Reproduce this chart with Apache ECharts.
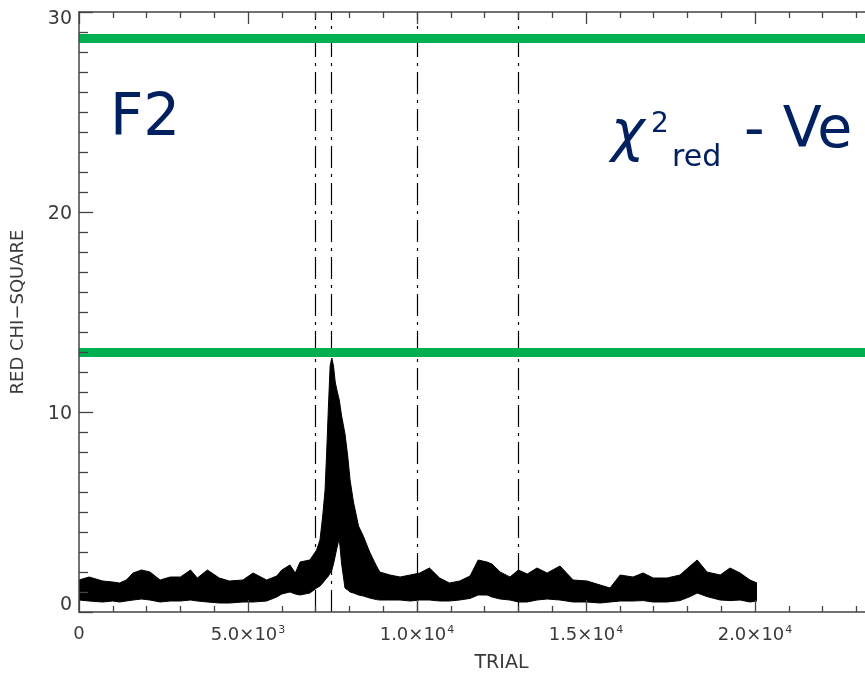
<!DOCTYPE html>
<html>
<head>
<meta charset="utf-8">
<script src="https://cdn.jsdelivr.net/npm/echarts@6/dist/echarts.min.js"></script>
<style>
  html, body { margin: 0; padding: 0; background: #fff; }
  #chart { width: 865px; height: 673px; }
</style>
</head>
<body>
<div id="chart"></div>
<script>
const trials = [0, 300, 700, 1000, 1200, 1400, 1600, 1850, 2100, 2400, 2700, 3000, 3300, 3500, 3800,
  4150, 4450, 4850, 5150, 5550, 5850, 6000, 6240, 6400, 6540, 6830, 7030, 7130, 7210, 7280, 7330,
  7380, 7430, 7480, 7530, 7580, 7630, 7700, 7770, 7870, 7950, 8020, 8120, 8270, 8410, 8600, 8800,
  8900, 9200, 9500, 9800, 10080, 10370, 10670, 10960, 11260, 11570, 11810, 12070, 12220, 12460,
  12750, 13000, 13260, 13550, 13850, 14230, 14620, 15030, 15420, 15710, 16010, 16390, 16690,
  16990, 17400, 17780, 18080, 18290, 18580, 18970, 19260, 19560, 19850, 20060];
// upper edge of the band (red chi-square)
const upper = [1.6, 1.75, 1.55, 1.5, 1.45, 1.6, 1.95, 2.1, 2.0, 1.6, 1.75, 1.75, 2.1, 1.7, 2.1,
  1.7, 1.55, 1.6, 1.95, 1.6, 1.8, 2.1, 2.35, 1.95, 2.5, 2.6, 3.1, 3.6, 4.8, 6.1, 8.1,
  10.3, 12.3, 12.7, 12.3, 11.5, 11.1, 10.6, 9.8, 8.9, 7.8, 6.6, 5.5, 4.3, 3.8, 3.0, 2.3,
  2.0, 1.85, 1.75, 1.85, 1.95, 2.2, 1.7, 1.45, 1.55, 1.8, 2.6, 2.5, 2.4, 2.0,
  1.75, 2.1, 1.9, 2.2, 1.95, 2.3, 1.6, 1.55, 1.35, 1.2, 1.85, 1.75, 1.95,
  1.7, 1.7, 1.85, 2.3, 2.6, 2.0, 1.85, 2.2, 1.95, 1.6, 1.45];
// lower edge of the band
const lower = [0.6, 0.55, 0.5, 0.55, 0.5, 0.55, 0.6, 0.65, 0.6, 0.5, 0.55, 0.55, 0.6, 0.55, 0.5,
  0.45, 0.45, 0.5, 0.5, 0.55, 0.75, 0.9, 1.0, 0.9, 0.85, 0.95, 1.2, 1.3, 1.45, 1.6, 1.7,
  1.8, 1.95, 2.1, 2.4, 2.8, 3.2, 3.68, 2.4, 1.2, 1.1, 1.0, 0.95, 0.85, 0.8, 0.7, 0.62,
  0.6, 0.6, 0.6, 0.55, 0.6, 0.6, 0.55, 0.55, 0.6, 0.68, 0.85, 0.85, 0.75, 0.65,
  0.6, 0.5, 0.5, 0.6, 0.65, 0.6, 0.5, 0.5, 0.45, 0.5, 0.55, 0.55, 0.57,
  0.5, 0.5, 0.57, 0.77, 0.95, 0.77, 0.6, 0.57, 0.6, 0.5, 0.55];
// dash-dot markers and green reference levels
const markerTrials = [7000, 7450, 10000, 13000];
const greenLevels = [28.7, 13.0];
const xTickLabels = ['0', '5.0×10{sup|3}', '1.0×10{sup|4}', '1.5×10{sup|4}', '2.0×10{sup|4}', '2.5×10{sup|4}'];
const yTickLabels = ['{lo|0}', '{mid|10}', '{mid|20}', '{hi|30}'];

var chartDom = document.getElementById('chart');
var myChart = echarts.init(chartDom);

const upperData = trials.map((t, i) => [t, upper[i]]);
const lowerData = trials.map((t, i) => [t, lower[i]]);

const axisCol = '#444';
const textCol = '#3a3a3a';
const labelFont = 'DejaVu Sans';
const yRich = (pad) => ({ fontSize: 19, fontFamily: labelFont, color: textCol, padding: pad });

var option = {
  animation: false,
  grid: { left: 79, top: 12, bottom: 61, width: 845, containLabel: false, outerBoundsMode: 'none' },
  xAxis: [
    {
      type: 'value', min: 0, max: 25000, interval: 5000, z: 10,
      name: 'TRIAL', nameLocation: 'middle', nameGap: 42,
      nameTextStyle: { color: textCol, fontSize: 19, fontFamily: labelFont },
      axisLine: { onZero: false, lineStyle: { color: axisCol, width: 1.5 } },
      axisTick: { inside: true, length: 12, lineStyle: { color: axisCol, width: 1.3 } },
      minorTick: { show: true, splitNumber: 5, length: 6, lineStyle: { color: axisCol, width: 1.3 } },
      splitLine: { show: false },
      axisLabel: {
        margin: 13, color: textCol, fontSize: 18, fontFamily: labelFont,
        formatter: (v) => xTickLabels[Math.round(v / 5000)],
        rich: { sup: { fontSize: 11, fontFamily: labelFont, color: textCol, verticalAlign: 'top', padding: [0, 0, 9, 1] } }
      }
    },
    {
      type: 'value', position: 'top', min: 0, max: 25000, interval: 5000, z: 10,
      axisLine: { onZero: false, lineStyle: { color: axisCol, width: 1.5 } },
      axisTick: { inside: true, length: 12, lineStyle: { color: axisCol, width: 1.3 } },
      minorTick: { show: true, splitNumber: 5, length: 6, lineStyle: { color: axisCol, width: 1.3 } },
      splitLine: { show: false },
      axisLabel: { show: false }
    }
  ],
  yAxis: {
    type: 'value', min: 0, max: 30, interval: 10, z: 10,
    name: 'RED CHI\u2212SQUARE', nameLocation: 'middle', nameGap: 52, nameRotate: 90,
    nameTextStyle: { color: textCol, fontSize: 18, fontFamily: labelFont },
    axisLine: { show: true, onZero: false, lineStyle: { color: axisCol, width: 1.5 } },
    axisTick: { show: true, inside: true, length: 14, lineStyle: { color: axisCol, width: 1.3 } },
    minorTick: { show: true, splitNumber: 10, length: 9, lineStyle: { color: axisCol, width: 1.3 } },
    splitLine: { show: false },
    axisLabel: {
      margin: 7, color: textCol, fontSize: 19, fontFamily: labelFont,
      formatter: (v) => yTickLabels[Math.round(v / 10)],
      rich: { lo: yRich([0, 0, 14, 0]), mid: yRich([4, 0, 0, 0]), hi: yRich([14, 0, 0, 0]) }
    }
  },
  series: [
    {
      name: 'upper', type: 'line', data: upperData, symbol: 'none', z: 2,
      lineStyle: { color: '#000', width: 1 },
      areaStyle: { color: '#000', opacity: 1, origin: 'start' }
    },
    {
      name: 'lower', type: 'line', data: lowerData, symbol: 'none', z: 3,
      lineStyle: { color: '#000', width: 1 },
      areaStyle: { color: '#fff', opacity: 1, origin: 'start' }
    },
    {
      name: 'markers', type: 'line', data: [], z: 4,
      markLine: {
        silent: true, symbol: 'none', label: { show: false },
        lineStyle: { color: '#000', width: 1.2, type: [22, 6, 3, 6] },
        data: markerTrials.map(t => ({ xAxis: t }))
      }
    },
    {
      name: 'levels', type: 'line', data: [], z: 5,
      markLine: {
        silent: true, symbol: 'none', label: { show: false },
        lineStyle: { color: '#00b050', width: 9, type: 'solid' },
        data: greenLevels.map(v => ({ yAxis: v }))
      }
    }
  ],
  graphic: [
    { type: 'text', left: 110, top: 91, z: 10,
      style: { text: 'F2', fill: '#002060', font: '58px "DejaVu Sans"' } },
    { type: 'text', x: 611, y: 135, z: 10,
      style: { text: 'χ', fill: '#002060', font: 'italic 57px "DejaVu Sans"', verticalAlign: 'middle' } },
    { type: 'text', x: 651, y: 125, z: 10,
      style: { text: '2', fill: '#002060', font: '28px "DejaVu Sans"', verticalAlign: 'middle' } },
    { type: 'text', x: 672, y: 158, z: 10,
      style: { text: 'red', fill: '#002060', font: '30px "DejaVu Sans"', verticalAlign: 'middle' } },
    { type: 'text', x: 744, y: 132, z: 10,
      style: { text: '- Ve', fill: '#002060', font: '57px "DejaVu Sans"', verticalAlign: 'middle' } }
  ]
};

myChart.setOption(option);
window.addEventListener('resize', () => myChart.resize());
</script>
</body>
</html>
